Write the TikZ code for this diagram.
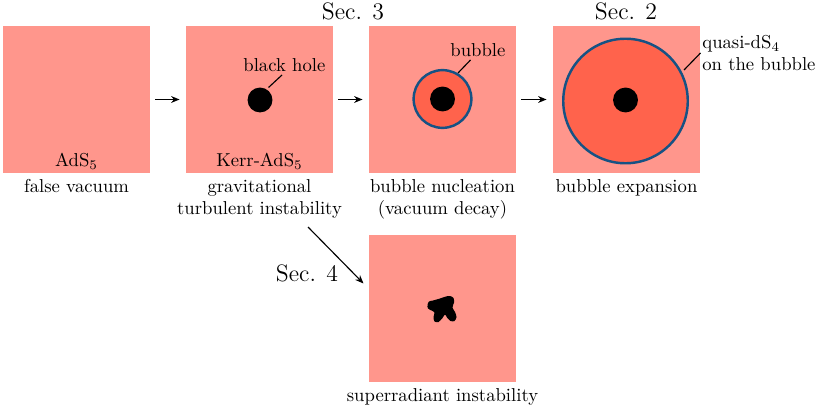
\documentclass[tikz,border=0pt]{standalone}
\usetikzlibrary{arrows.meta}
\definecolor{vacpink}{RGB}{255,150,140}
\definecolor{bubred}{RGB}{255,99,76}
\definecolor{wallblue}{RGB}{22,82,132}
\begin{document}
\begin{tikzpicture}[x=0.53pt,y=-0.53pt,
  font=\fontsize{9.9}{11.8}\selectfont,
  box/.style={draw=none,fill=vacpink,minimum size=77.9pt,inner sep=0pt},
  captext/.style={inner sep=0pt,align=center,anchor=north},
  lab/.style={inner sep=0pt},
  sec/.style={inner sep=0pt,anchor=base,font=\fontsize{12.6}{15}\selectfont},
  arr/.style={-{Stealth[length=4.5pt,width=3.6pt]},line width=0.6pt},
  lead/.style={line width=0.6pt},
  hole/.style={fill=black},
  wall/.style={fill=bubred,draw=wallblue,line width=1.3pt}]
\useasboundingbox (0,0) rectangle (817,408);
% squares
\node[box] (s1) at (76.5,99.5) {};
\node[box] (s2) at (259.5,99.5) {};
\node[box] (s3) at (442.5,99.5) {};
\node[box] (s4) at (626.5,99.5) {};
\node[box] (s5) at (442.5,308.5) {};
% contents
\fill[hole] (260,100) circle (6.6pt);
\draw[wall] (442.5,99) circle (15.3pt);
\fill[hole] (442.5,99) circle (6.6pt);
\draw[wall] (625.5,101) circle (33pt);
\fill[hole] (625.5,100) circle (6.6pt);
\fill[hole] plot[smooth cycle,tension=0.5] coordinates {(427.5,305) (429,301.5) (433,300.5) (440,298.5) (446,296.5) (450,296) (453.5,298) (454,302.5) (452.5,307.5) (455,312) (456.5,317) (454.5,321) (450.5,321) (447,317.5) (445,314.5) (442.5,318) (438.5,322) (434.5,321.5) (433.5,317) (434.5,312.5) (431.5,310.5) (428,308.5)};
% inner labels
\node[lab,anchor=base] (t1) at (76.5,167) {AdS$_5$};
\node[lab,anchor=base] (t2) at (259.5,167) {Kerr-AdS$_5$};
\node[lab,anchor=base west] (bh) at (243,72) {black hole};
\coordinate (bhA) at (268.5,87.5);
\coordinate (bhB) at (282,75);
\draw[lead] (bhA) -- (bhB);
\node[lab,anchor=base west] (bb) at (450,57) {bubble};
\coordinate (bbA) at (458,73);
\coordinate (bbB) at (470.5,60);
\draw[lead] (bbA) -- (bbB);
\node[lab,anchor=north west,align=left] (qd) at (702,35) {quasi-dS$_4$\\on the bubble};
\coordinate (qdA) at (684,70);
\coordinate (qdB) at (700.5,53);
\draw[lead] (qdA) -- (qdB);
% captions
\node[captext] (c1) at (76.5,179) {false vacuum};
\node[captext] (c2) at (259.5,179) {gravitational\\turbulent instability};
\node[captext] (c3) at (442.5,179) {bubble nucleation\\(vacuum decay)};
\node[captext] (c4) at (626.5,179) {bubble expansion};
\node[captext] (c5) at (442.5,388) {superradiant instability};
% section labels
\node[sec] (sec3) at (353,19.5) {Sec. 3};
\node[sec] (sec2) at (626,19.5) {Sec. 2};
\node[sec] (sec4) at (307,281) {Sec. 4};
% arrows
\draw[arr,shorten <=2.6pt,shorten >=3.2pt] (s1) -- (s2);
\draw[arr,shorten <=2.6pt,shorten >=3.2pt] (s2) -- (s3);
\draw[arr,shorten <=2.6pt,shorten >=3.2pt] (s3) -- (s4);
\coordinate (dA) at (308,227);
\coordinate (dB) at (363.5,283.5);
\draw[arr] (dA) -- (dB);
\end{tikzpicture}
\end{document}
